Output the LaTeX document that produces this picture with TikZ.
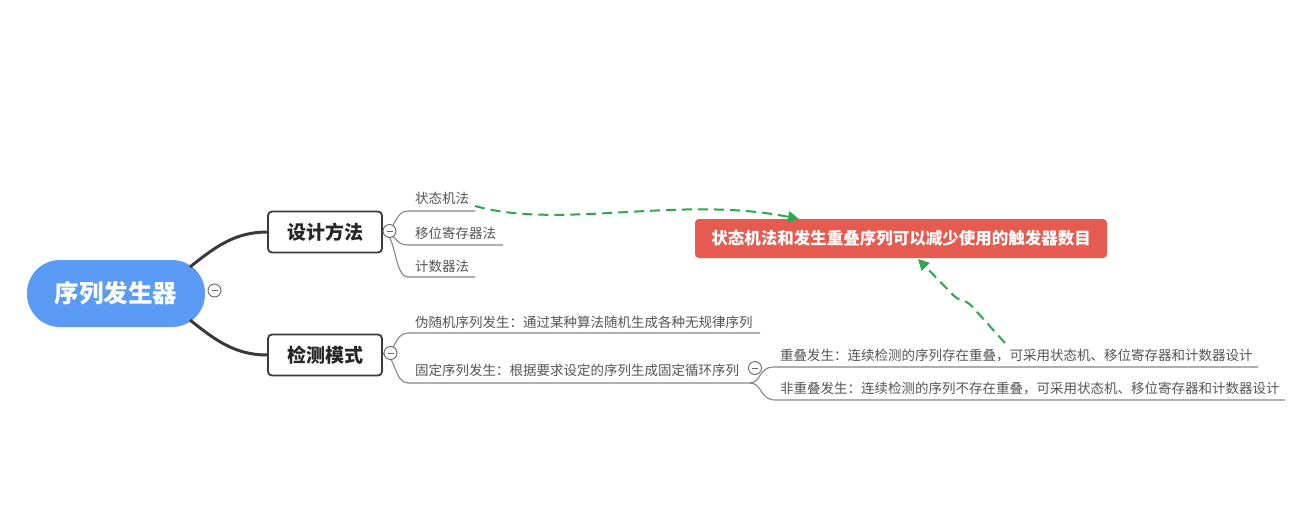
\documentclass[tikz,border=0pt]{standalone}
\usepackage{fontspec}
\setmainfont{Noto Sans CJK SC}
\usetikzlibrary{arrows.meta}
\definecolor{rootblue}{HTML}{5A9BF6}
\definecolor{notered}{HTML}{E65B4F}
\definecolor{relgreen}{HTML}{2EA84F}
\definecolor{boxline}{HTML}{3A3A3A}
\definecolor{branchgray}{HTML}{858585}
\definecolor{leafgray}{HTML}{555555}
\begin{document}
\begin{tikzpicture}[x=1pt,y=-1pt,
  rootnode/.style={fill=rootblue, text=white, rounded corners=33pt, minimum width=178pt, minimum height=67pt, font=\fontsize{24.5}{28}\selectfont\bfseries, inner sep=0pt},
  mainbox/.style={draw=boxline, line width=1.8pt, fill=white, rounded corners=4pt, minimum width=114pt, minimum height=41pt, font=\fontsize{19}{22}\selectfont\bfseries, text=black!85, inner sep=0pt},
  leaf/.style={anchor=west, inner sep=0pt, text=leafgray, font=\fontsize{13.5}{16}\selectfont},
  uline/.style={draw=branchgray, line width=1.1pt},
  trunk/.style={draw=boxline, line width=3pt},
  fold/.style={circle, draw=black!60, fill=white, line width=0.9pt, minimum size=13pt, inner sep=0pt, text=black!60},
  notebox/.style={fill=notered, text=white, rounded corners=4pt, minimum width=412pt, minimum height=39pt, font=\fontsize{16.5}{19}\selectfont\bfseries, inner sep=0pt},
  rel/.style={draw=relgreen, line width=2pt, dash pattern=on 10pt off 6pt, -{Triangle[length=11pt,width=11pt]}}
]
\useasboundingbox (0,0) rectangle (1315,528);
\fill[white] (0,0) rectangle (1315,528);

% main nodes
\node[rootnode] (root) at (116,293.5) {序列发生器};
\node[mainbox] (dm) at (325,232) {设计方法};
\node[mainbox] (jc) at (325,355) {检测模式};
\node[notebox] (note) at (901,238.5) {状态机法和发生重叠序列可以减少使用的触发器数目};

% trunk connectors
\coordinate (rootU) at (190,267);
\coordinate (rootL) at (190,320);
\draw[trunk] (rootU) .. controls (215,247) and (235,232) .. (dm.west);
\draw[trunk] (rootL) .. controls (215,340) and (235,355) .. (jc.west);

% leaves of 设计方法
\node[leaf] (t1) at (415,198.5) {状态机法};
\node[leaf] (t2) at (415,233) {移位寄存器法};
\node[leaf] (t3) at (415,266.5) {计数器法};
\coordinate (dmj) at (383,232);
\coordinate (u1a) at (408,211); \coordinate (u1b) at (475,211);
\coordinate (u2a) at (408,245); \coordinate (u2b) at (503,245);
\coordinate (u3a) at (408,277); \coordinate (u3b) at (475,277);
\draw[uline] (dmj) .. controls (396,232) and (394,211) .. (u1a) -- (u1b);
\draw[uline] (dmj) .. controls (396,232) and (394,245) .. (u2a) -- (u2b);
\draw[uline] (dmj) .. controls (396,232) and (394,277) .. (u3a) -- (u3b);

% leaves of 检测模式
\node[leaf] (t4) at (415,322.5) {伪随机序列发生：通过某种算法随机生成各种无规律序列};
\node[leaf] (t5) at (415,370) {固定序列发生：根据要求设定的序列生成固定循环序列};
\coordinate (jcj) at (383,354);
\coordinate (u4a) at (408,333); \coordinate (u4b) at (760,333);
\coordinate (u5a) at (408,383); \coordinate (u5b) at (750,383);
\draw[uline] (jcj) .. controls (396,354) and (394,333) .. (u4a) -- (u4b);
\draw[uline] (jcj) .. controls (396,354) and (394,383) .. (u5a) -- (u5b);

% leaves of 固定序列发生
\node[leaf] (t6) at (780,355) {重叠发生：连续检测的序列存在重叠，可采用状态机、移位寄存器和计数器设计};
\node[leaf] (t7) at (780,388) {非重叠发生：连续检测的序列不存在重叠，可采用状态机、移位寄存器和计数器设计};
\coordinate (u6a) at (773,367); \coordinate (u6b) at (1258,367);
\coordinate (u7a) at (775,400); \coordinate (u7b) at (1285,400);
\draw[uline] (u5b) .. controls (760,383) and (760,367) .. (u6a) -- (u6b);
\draw[uline] (u5b) .. controls (762,383) and (760,400) .. (u7a) -- (u7b);

% fold markers
\node[fold] (f0) at (214.5,290.5) {\rule{6pt}{0.9pt}};
\node[fold] (f1) at (389.5,231) {\rule{6pt}{0.9pt}};
\node[fold] (f2) at (390.5,353) {\rule{6pt}{0.9pt}};
\node[fold] (f3) at (755,368) {\rule{6pt}{0.9pt}};

% relationship arrows
\coordinate (r1s) at (475,206);
\coordinate (r1e) at (799,219);
\draw[rel] (r1s) .. controls (560,230) and (680,195) .. (r1e);
\coordinate (r2s) at (1005,343);
\coordinate (r2e) at (918,259);
\draw[rel, rounded corners=5pt] (r2s) -- (968,302) -- (957,299) -- (r2e);
\end{tikzpicture}
\end{document}
